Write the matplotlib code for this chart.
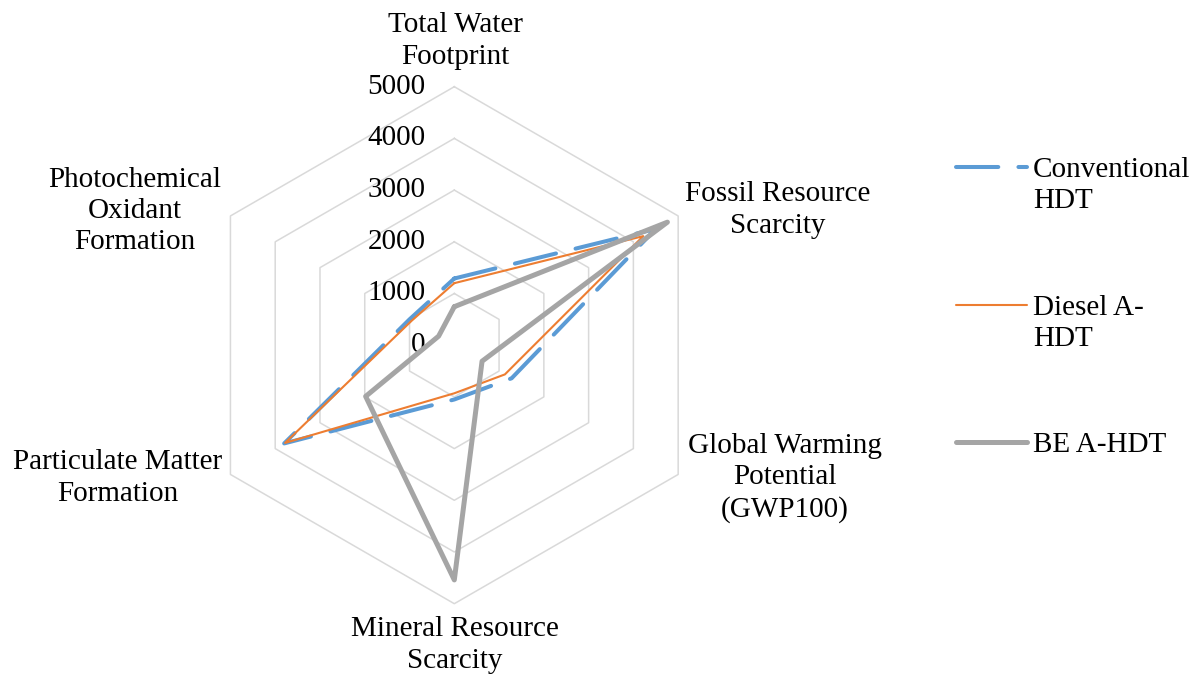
import numpy as np
import matplotlib
matplotlib.use("Agg")
import matplotlib.pyplot as plt
from matplotlib.lines import Line2D

# Data
categories = ["Total Water\nFootprint", "Fossil Resource\nScarcity",
              "Global Warming\nPotential\n(GWP100)", "Mineral Resource\nScarcity",
              "Particulate Matter\nFormation", "Photochemical\nOxidant\nFormation"]
conventional = [1290, 4500, 1280, 1050, 3800, 1000]
diesel = [1200, 4220, 1130, 930, 3780, 950]
be = [745, 4760, 620, 4540, 1980, 350]
ring_values = [1000, 2000, 3000, 4000, 5000]
tick_values = [0, 1000, 2000, 3000, 4000, 5000]

series = [
    ("Conventional\nHDT", conventional, dict(color="#5B9BD5", lw=2.9, linestyle=(0, (10.5, 5.0)),
                                             dash_capstyle="round")),
    ("Diesel A-\nHDT", diesel, dict(color="#ED7D31", lw=1.5)),
    ("BE A-HDT", be, dict(color="#A5A5A5", lw=3.6)),
]

W, H = 1201, 677
plt.rcParams["font.family"] = ["Liberation Serif", "DejaVu Serif"]
fs = 21
ls = 1.27

def px(x, y):
    return x / W, 1 - y / H

fig = plt.figure(figsize=(W / 100, H / 100), dpi=100)
cx, cy, R = 454.3, 345.2, 258.5
ax = fig.add_axes([(cx - R) / W, 1 - (cy + R) / H, 2 * R / W, 2 * R / H], projection="polar")
ax.set_theta_offset(np.pi / 2)
ax.set_theta_direction(-1)
ax.set_ylim(0, 5000)
ax.grid(False)
ax.spines["polar"].set_visible(False)
ax.set_xticks([])
ax.set_yticks([])
ax.patch.set_alpha(0)

n = len(categories)
angles = np.linspace(0, 2 * np.pi, n, endpoint=False)
ang_closed = np.append(angles, angles[0])

# hexagonal grid rings
for rv in ring_values:
    ax.plot(ang_closed, [rv] * (n + 1), color="#D9D9D9", lw=1.1, clip_on=False, zorder=1)

# tick labels along the top axis
for tv in tick_values:
    ax.annotate(str(tv), xy=(0, tv), xytext=(-29, 0), textcoords="offset pixels",
                ha="right", va="center", fontsize=fs, annotation_clip=False)

# data series
for label, vals, style in series:
    ax.plot(ang_closed, list(vals) + [vals[0]], solid_joinstyle="round",
            solid_capstyle="round", clip_on=False, zorder=3, **style)

# category labels
label_pos = [(455, 41), (778, 210), (785, 478), (455, 645), (118, 478), (135, 211)]
for text, (x, y) in zip(categories, label_pos):
    fig.text(*px(x, y), text, ha="center", va="center", fontsize=fs,
             linespacing=ls, multialignment="center")

# legend drawn manually
leg_y = [167, 305, 442]
for (label, vals, style), y in zip(series, leg_y):
    fx0, fy = px(956, y)
    fx1, _ = px(1027, y)
    fig.add_artist(Line2D([fx0, fx1], [fy, fy], transform=fig.transFigure,
                          solid_capstyle="round", **style))
    fig.text(*px(1033, y - 10), label, ha="left", va="top", fontsize=fs, linespacing=ls)

fig.savefig("out.png", dpi=100)
